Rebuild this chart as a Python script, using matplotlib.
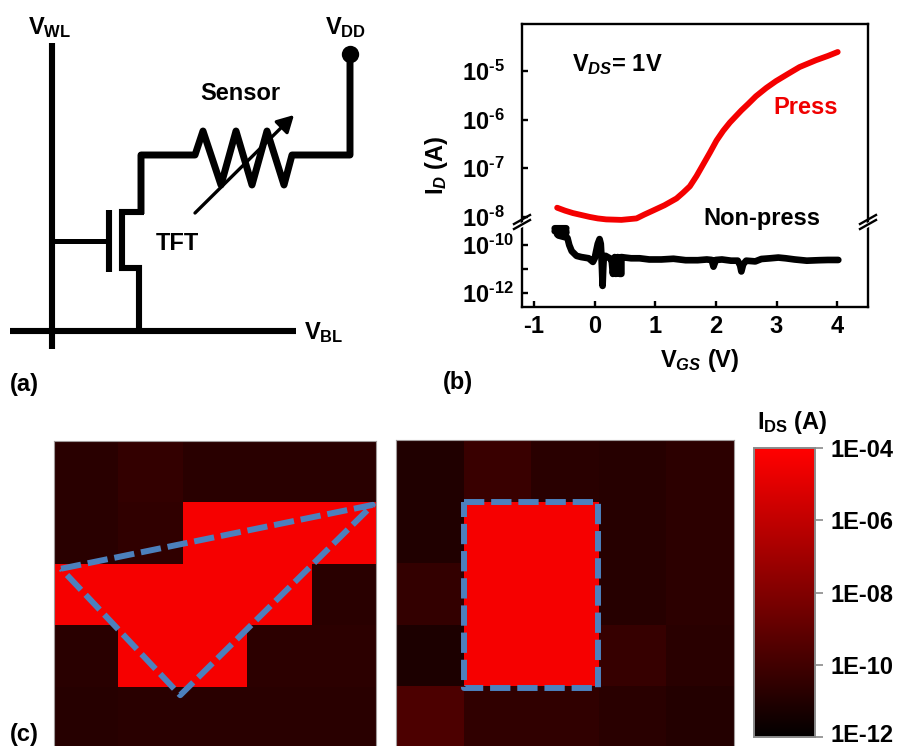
import matplotlib
matplotlib.use("Agg")
import numpy as np
import matplotlib.pyplot as plt
from matplotlib.colors import LinearSegmentedColormap, LogNorm
from matplotlib.cm import ScalarMappable
from matplotlib.ticker import NullLocator, FixedLocator, FixedFormatter
from matplotlib.transforms import ScaledTranslation

plt.rcParams.update({
    "font.family": "Liberation Sans", "font.weight": "bold",
    "mathtext.fontset": "custom", "mathtext.rm": "Liberation Sans:bold",
    "mathtext.bf": "Liberation Sans:bold", "mathtext.it": "Liberation Sans:italic:bold",
    "mathtext.default": "rm",
})

# ---- transfer curves (b)
press_vgs = [-0.62, -0.49, -0.36, -0.22, -0.08, 0.05, 0.19, 0.44, 0.69, 0.82, 0.96, 1.15, 1.35, 1.46, 1.57, 1.68,
             1.79, 1.90, 2.01, 2.12, 2.23, 2.42, 2.53, 2.66, 2.83, 2.99, 3.19, 3.38, 3.65, 3.85, 4.01]
press_log_id = [-7.81, -7.87, -7.92, -7.96, -8.00, -8.03, -8.05, -8.06, -8.03, -7.95, -7.87, -7.76, -7.62, -7.50, -7.37, -7.16,
                -6.92, -6.68, -6.43, -6.23, -6.06, -5.81, -5.68, -5.52, -5.35, -5.21, -5.06, -4.92, -4.78, -4.69, -4.61]
nonpress_vgs = [-0.66, -0.47, -0.66, -0.47, -0.62, -0.47, -0.60, -0.45, -0.42, -0.38, -0.30, -0.22, -0.10, -0.03,
                0.0, 0.02, 0.05, 0.08, 0.10, 0.11, 0.12, 0.13, 0.14, 0.15, 0.18, 0.25, 0.28, 0.30, 0.33, 0.35,
                0.38, 0.41, 0.44, 0.44, 0.5, 0.6, 0.74, 0.9, 1.1, 1.3, 1.5, 1.7, 1.85, 1.93, 1.96, 2.0, 2.1,
                2.25, 2.36, 2.40, 2.42, 2.45, 2.5, 2.65, 2.75, 2.9, 3.03, 3.15, 3.3, 3.5, 3.7, 3.85, 4.02]
nonpress_log_id = [-9.3, -9.3, -9.42, -9.42, -9.55, -9.5, -9.6, -9.7, -10.0, -10.25, -10.45, -10.5, -10.55, -10.7,
                   -10.55, -10.3, -9.95, -9.75, -9.95, -10.4, -11.0, -11.7, -11.0, -10.5, -10.45, -10.55, -10.65, -11.2, -10.5, -11.2,
                   -10.5, -11.2, -11.2, -10.5, -10.52, -10.55, -10.55, -10.6, -10.6, -10.57, -10.63, -10.63, -10.6, -10.62, -10.9, -10.62, -10.6,
                   -10.65, -10.65, -10.85, -11.1, -10.8, -10.65, -10.68, -10.58, -10.55, -10.52, -10.55, -10.6, -10.65, -10.63, -10.62, -10.62]
xticks = [-1, 0, 1, 2, 3, 4]
upper_exps = [-5, -6, -7, -8]
lower_exps = [-10, -11, -12]

# ---- pressure maps (c), log10 of I_DS
triangle_map = [
    [-10.7, -10.4, -10.7, -10.7, -10.7],
    [-10.7, -10.5, -4.3, -4.3, -4.3],
    [-4.3, -4.3, -4.3, -4.3, -10.7],
    [-10.7, -4.3, -4.3, -10.6, -10.6],
    [-10.8, -10.7, -10.7, -10.7, -10.7],
]
rectangle_map = [
    [-11.0, -10.2, -10.7, -10.8, -10.6],
    [-11.0, -4.3, -4.3, -10.8, -10.6],
    [-10.4, -4.3, -4.3, -10.8, -10.6],
    [-11.1, -4.3, -4.3, -10.3, -10.7],
    [-9.6, -10.5, -10.5, -10.7, -10.9],
]
triangle_col = [0.11, 4.95, 1.96, 0.11]
triangle_row = [2.08, 1.04, 4.14, 2.08]
rect_col = [1.0, 2.99, 2.99, 1.0, 1.0]
rect_row = [1.0, 1.0, 4.03, 4.03, 1.0]
cbar_exps = [-12, -10, -8, -6, -4]

# ---- circuit (a), figure pixels
wl_x, wl_y = [52, 52], [43, 349]
bl_x, bl_y = [10, 296], [331, 331]
gate_x, gate_y = [52, 108], [241, 241]
plate_x, plate_y = [109, 109], [210, 272]
tft_x = [144, 122, 122, 139, 139]
tft_y = [212, 212, 268, 268, 331]
wire_x = [141, 141, 195, 203, 221, 236, 252, 267, 284, 292, 350, 350]
wire_y = [214, 155, 155, 131, 185, 131, 185, 131, 185, 155, 155, 54]

W, H = 898, 746
fig = plt.figure(figsize=(W / 100, H / 100), dpi=100, facecolor="white")


def rect(l, t, r, b):
    return [l / W, 1 - b / H, (r - l) / W, (b - t) / H]


BLUE = "#4c80bd"
FS = 17

# --- panel b
up = fig.add_axes(rect(522, 24, 868, 223))
lo = fig.add_axes(rect(522, 223, 868, 307))
up.plot(press_vgs, 10.0 ** np.array(press_log_id), color="#f40000", lw=4.2, solid_capstyle="round")
lo.plot(nonpress_vgs, 10.0 ** np.array(nonpress_log_id), color="black", lw=4.8,
        solid_joinstyle="round", solid_capstyle="round")
for a in (up, lo):
    a.set_yscale("log")
    a.set_xlim(-1.2, 4.51)
    a.yaxis.set_minor_locator(NullLocator())
    for s in a.spines.values():
        s.set_linewidth(1.7)
    a.tick_params(which="major", direction="in", length=4.5, width=1.7, labelsize=FS)
up.set_ylim(10 ** -8.124, 10 ** -4.035)
lo.set_ylim(10 ** -12.58, 10 ** -9.08)
up.spines["bottom"].set_visible(False)
lo.spines["top"].set_visible(False)
up.set_xticks([])
lo.set_xticks(xticks)
lo.set_xticklabels([str(v) for v in xticks])
lo.tick_params(axis="x", pad=6)
up.yaxis.set_major_locator(FixedLocator([10.0 ** e for e in upper_exps]))
up.yaxis.set_major_formatter(FixedFormatter([rf"$10^{{\text{{{e}}}}}$" for e in upper_exps]))
lo.yaxis.set_major_locator(FixedLocator([10.0 ** e for e in lower_exps]))
lo.yaxis.set_major_formatter(FixedFormatter([r"$10^{\text{-10}}$", "", r"$10^{\text{-12}}$"]))
for a in (up, lo):
    a.tick_params(axis="y", pad=43)
    for lab in a.get_yticklabels():
        lab.set_ha("left")

# --- panel c
cmap = LinearSegmentedColormap.from_list("blackred", ["#000000", "#ff0000"])
norm = LogNorm(1e-12, 1e-4)
left_map = fig.add_axes(rect(54, 441, 376, 748))
right_map = fig.add_axes(rect(396, 440, 734, 748))
for a, grid, cx, cy in ((left_map, triangle_map, triangle_col, triangle_row),
                        (right_map, rectangle_map, rect_col, rect_row)):
    a.pcolormesh(np.arange(6), np.arange(6), 10.0 ** np.array(grid), cmap=cmap, norm=norm,
                 edgecolors="face", linewidth=0)
    a.plot(cx, cy, color=BLUE, lw=4.3, ls=(0, (3.4, 1.15)), dash_capstyle="butt", clip_on=False)
    a.set_xlim(0, 5)
    a.set_ylim(5, 0)
    a.set_xticks([])
    a.set_yticks([])
    for s in a.spines.values():
        s.set_color("#a09a9a")
        s.set_linewidth(0.8)

cax = fig.add_axes(rect(754, 448, 815, 737))
cb = fig.colorbar(ScalarMappable(norm=norm, cmap=cmap), cax=cax)
cb.set_ticks([10.0 ** e for e in cbar_exps])
cb.set_ticklabels([f"1E-{abs(e):02d}" for e in cbar_exps])
cb.ax.yaxis.set_minor_locator(NullLocator())
cb.ax.tick_params(length=6, width=1.2, color="#8a8a8a", labelsize=FS, pad=5)
cb.outline.set_edgecolor("#8a8a8a")
cb.outline.set_linewidth(1.4)
cb.solids.set_edgecolor("face")
for lab in cb.ax.get_yticklabels():
    if lab.get_text() == "1E-12":
        lab.set_transform(lab.get_transform() + ScaledTranslation(0, 3 / 72, fig.dpi_scale_trans))

# --- overlay canvas in pixel coordinates: circuit, break marks, annotations
c = fig.add_axes([0, 0, 1, 1], zorder=10)
c.set_xlim(0, W)
c.set_ylim(H, 0)
c.axis("off")
c.patch.set_alpha(0)
LW = 4.4
c.plot(wl_x, wl_y, color="k", lw=LW, solid_capstyle="butt")
c.plot(bl_x, bl_y, color="k", lw=LW, solid_capstyle="butt")
c.plot(gate_x, gate_y, color="k", lw=3.6, solid_capstyle="butt")
c.plot(plate_x, plate_y, color="k", lw=LW, solid_capstyle="butt")
c.plot(tft_x, tft_y, color="k", lw=LW, solid_capstyle="butt", solid_joinstyle="miter")
c.plot(wire_x, wire_y, color="k", lw=5.0, solid_capstyle="butt", solid_joinstyle="round")
c.plot([350], [54], "o", color="k", ms=12.5, mew=0)
c.annotate("", xy=(294, 115), xytext=(195, 213),
           arrowprops=dict(arrowstyle="-|>,head_length=1.0,head_width=0.55", color="k", lw=2.4,
                           shrinkA=0, shrinkB=0))

for bx in (522, 868):
    c.fill([bx - 12, bx + 12, bx + 12, bx - 12], [229, 216, 221, 234], color="white", lw=0, zorder=3)
    for off in (0, 5):
        c.plot([bx - 8, bx + 8], [226 + off - 2, 217 + off - 2], color="k", lw=1.7, zorder=4)


def t(x, y, s, color="k", ha="left", fs=FS, rot=0):
    c.text(x, y, s, color=color, ha=ha, va="center", fontsize=fs, rotation=rot)


t(28, 28, r"$V_{WL}$")
t(325, 28, r"$V_{DD}$")
t(304, 333, r"$V_{BL}$")
t(200, 94, "Sensor")
t(156, 243, "TFT")
t(10, 385, "(a)")
t(443, 383, "(b)")
t(10, 734, "(c)")
t(572, 65, r"$V_{\mathit{DS}}$= 1V")
t(773, 108, "Press", color="#f00000")
t(703, 219, "Non-press")
t(700, 361, r"$V_{\mathit{GS}}$ (V)", ha="center")
t(436, 165, r"$I_{\mathit{D}}$ (A)", ha="center", rot=90)
t(757, 422, r"$I_{DS}$ (A)")

fig.savefig("out.png", dpi=100)
